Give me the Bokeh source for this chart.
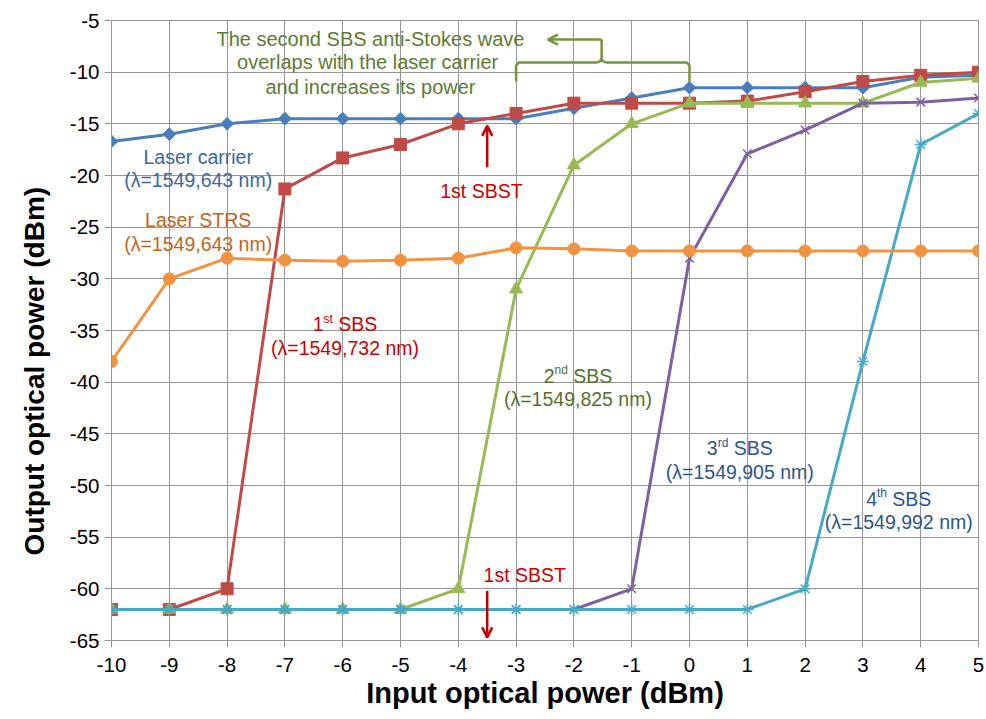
import math
from bokeh.plotting import figure
from bokeh.models import Range1d, FixedTicker, Title, Arrow, OpenHead
from bokeh.core.properties import value
from bokeh.embed import file_html
from bokeh.resources import INLINE

# ---------------- data ----------------
x_in = [-10, -9, -8, -7, -6, -5, -4, -3, -2, -1, 0, 1, 2, 3, 4, 5]
laser_carrier = [-16.7, -16.0, -15.0, -14.5, -14.5, -14.5, -14.5, -14.5, -13.5, -12.5, -11.5, -11.5, -11.5, -11.5, -10.5, -10.3]
sbs1 = [-62, -62, -60, -21.3, -18.3, -17.0, -15.0, -14.0, -13.0, -13.0, -13.0, -12.8, -11.9, -10.9, -10.3, -10.0]
sbs2 = [-62, -62, -62, -62, -62, -62, -60, -31.0, -19.0, -15.0, -13.0, -13.0, -13.0, -13.0, -11.0, -10.6]
sbs3 = [-62, -62, -62, -62, -62, -62, -62, -62, -62, -60, -28.0, -17.9, -15.6, -13.0, -12.9, -12.5]
sbs4 = [-62, -62, -62, -62, -62, -62, -62, -62, -62, -62, -62, -62, -60, -38.0, -17.0, -14.0]
laser_strs = [-38.0, -30.0, -28.0, -28.2, -28.3, -28.2, -28.0, -27.0, -27.1, -27.3, -27.3, -27.3, -27.3, -27.3, -27.3, -27.3]

x_ticks = list(range(-10, 6))
y_ticks = list(range(-65, 0, 5))
x_tick_labels = {t: str(t) for t in x_ticks}
y_tick_labels = {t: str(t) for t in y_ticks}

FONT = "Liberation Sans"

p = figure(width=984, height=717, output_backend="svg", toolbar_location=None,
           x_range=Range1d(-10, 5), y_range=Range1d(-65, -5),
           min_border_left=110, min_border_right=6, min_border_top=20, min_border_bottom=77)
p.background_fill_color = "white"
p.border_fill_color = "white"
p.outline_line_color = "#969696"
p.outline_line_width = 1

for ax in (p.xaxis[0], p.yaxis[0]):
    ax.major_label_text_font = FONT
    ax.major_label_text_font_size = "20.5px"
    ax.major_label_text_color = "#000000"
    ax.axis_line_color = "#969696"
    ax.major_tick_line_color = "#969696"
    ax.major_tick_in = 0
    ax.major_tick_out = 7
    ax.minor_tick_line_color = None
    ax.axis_label_text_font = FONT
    ax.axis_label_text_font_style = "bold"
    ax.axis_label_text_font_size = "29px"
    ax.axis_label_text_color = "#000000"

p.xaxis.ticker = FixedTicker(ticks=x_ticks)
p.yaxis.ticker = FixedTicker(ticks=y_ticks)
p.xaxis.major_label_overrides = x_tick_labels
p.yaxis.major_label_overrides = y_tick_labels
p.xaxis.major_label_standoff = 10
p.yaxis.major_label_standoff = 5
p.xaxis.axis_label = "Input optical power (dBm)"
p.xaxis.axis_label_standoff = 2

p.xgrid.ticker = FixedTicker(ticks=x_ticks)
p.ygrid.ticker = FixedTicker(ticks=y_ticks)
p.grid.grid_line_color = "#969696"
p.grid.grid_line_width = 1

# y-axis title, placed slightly below the centre as in the original
p.add_layout(Title(text="Output optical power (dBm)", align="left", offset=85,
                   text_font=FONT, text_font_style="bold", text_font_size="28px",
                   text_color="#000000", standoff=33), "left")

# ---------------- series ----------------
series = [
    (laser_carrier, "#4A7EBB", "square", 9, math.pi / 4),
    (sbs1, "#BE4B48", "square", 12, 0),
    (sbs2, "#98B954", "triangle", 13, 0),
    (sbs3, "#7D60A0", "x", 12, 0),
    (sbs4, "#46AAC5", "asterisk", 12, 0),
    (laser_strs, "#F29342", "circle", 12, 0),
]
for ys, col, marker, size, ang in series:
    p.line(x_in, ys, line_color=col, line_width=3)
    if marker in ("x", "asterisk"):
        p.scatter(x_in, ys, marker=marker, size=size, line_color=col, line_width=1.5, fill_color=col)
    else:
        p.scatter(x_in, ys, marker=marker, size=size, angle=ang, line_color=col, fill_color=col, line_width=1)

# ---------------- annotations ----------------
FS = "19.5px"

def txt(x, y, s, color, size=FS, align="center", xoff=0):
    p.text(x=[x], y=[y], text=[s], text_color=color, text_font=value(FONT),
           text_font_size=size, text_align=align, text_baseline="middle", x_offset=xoff)

def sup_label(x, y, num, sup, rest, color, widths):
    wn, ws, wsp, wr = widths
    total = wn + ws + wsp + wr
    start = -total / 2
    txt(x, y, num, color, align="left", xoff=start)
    txt(x, y + 0.55, sup, color, size="12px", align="left", xoff=start + wn)
    txt(x, y, rest, color, align="left", xoff=start + wn + ws + wsp)

c_carrier = "#3A67A3"
c_strs = "#C0651E"
c_red = "#CC0000"
c_olive = "#56702D"
c_top = "#5E7B32"
c_blue = "#2B5591"

carrier_lines = ["Laser carrier", "(λ=1549,643 nm)"]
strs_lines = ["Laser STRS", "(λ=1549,643 nm)"]
top_lines = ["The second SBS anti-Stokes wave", "overlaps with the  laser carrier", "and increases its power"]

txt(-8.5, -18.2, carrier_lines[0], c_carrier)
txt(-8.5, -20.4, carrier_lines[1], c_carrier)
txt(-8.5, -24.3, strs_lines[0], c_strs)
txt(-8.5, -26.6, strs_lines[1], c_strs)

txt(-5.52, -6.75, top_lines[0], c_top, size="20px")
txt(-5.52, -9.05, top_lines[1], c_top, size="20px")
txt(-5.52, -11.4, top_lines[2], c_top, size="20px")

txt(-3.6, -21.5, "1st SBST", c_red)
txt(-2.85, -58.7, "1st SBST", c_red)

sup_label(-5.96, -34.4, "1", "st", "SBS", c_red, (10.8, 9.3, 5.4, 39.0))
txt(-5.96, -36.7, "(λ=1549,732 nm)", c_red)
sup_label(-1.93, -39.4, "2", "nd", "SBS", c_olive, (10.8, 13.3, 5.4, 39.0))
txt(-1.93, -41.6, "(λ=1549,825 nm)", c_olive)
sup_label(0.87, -46.4, "3", "rd", "SBS", c_blue, (10.8, 10.7, 5.4, 39.0))
txt(0.87, -48.7, "(λ=1549,905 nm)", c_blue)
sup_label(3.62, -51.3, "4", "th", "SBS", c_blue, (10.8, 10.0, 5.4, 39.0))
txt(3.62, -53.5, "(λ=1549,992 nm)", c_blue)

# threshold arrows
arrow_red = "#C00000"
p.add_layout(Arrow(x_start=-3.5, y_start=-19.2, x_end=-3.5, y_end=-15.2,
                   line_color=arrow_red, line_width=2.5,
                   end=OpenHead(line_color=arrow_red, line_width=2.5, size=10)))
p.add_layout(Arrow(x_start=-3.5, y_start=-60.2, x_end=-3.5, y_end=-64.7,
                   line_color=arrow_red, line_width=2.5,
                   end=OpenHead(line_color=arrow_red, line_width=2.5, size=10)))

# brace over the -3 .. 0 dBm region
brace_col = "#77933C"
brace_left_x = [-3.0, -3.0, -2.95, -1.6, -1.53, -1.52, -1.52]
brace_left_y = [-10.9, -9.35, -9.06, -9.06, -8.9, -8.6, -6.84]
brace_right_x = [-1.52, -1.51, -1.44, -0.05, 0.0, 0.0]
brace_right_y = [-8.6, -8.9, -9.06, -9.06, -9.35, -10.9]
p.line(brace_left_x, brace_left_y, line_color=brace_col, line_width=2.5)
p.line(brace_right_x, brace_right_y, line_color=brace_col, line_width=2.5)
p.add_layout(Arrow(x_start=-1.52, y_start=-6.84, x_end=-2.45, y_end=-6.84,
                   line_color=brace_col, line_width=2.5,
                   end=OpenHead(line_color=brace_col, line_width=2.5, size=10)))

open("out.html", "w").write(file_html(p, INLINE))
